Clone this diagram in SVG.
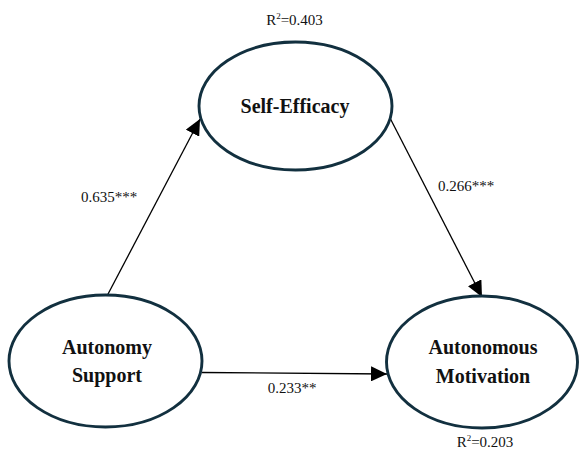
<svg xmlns="http://www.w3.org/2000/svg" width="579" height="452" viewBox="0 0 579 452">
<style>
.node{fill:#fff;stroke:#12303f;stroke-width:2.9}
.nt{font-family:"Liberation Serif",serif;font-weight:bold;font-size:20px;fill:#111;text-anchor:middle}
.lb{font-family:"Liberation Serif",serif;font-size:15px;fill:#111;text-anchor:middle}
.edge{stroke:#000;stroke-width:1.3;fill:none;marker-end:url(#ah)}
</style>
<defs>
<marker id="ah" markerWidth="16" markerHeight="15" refX="16" refY="7.5" orient="auto" markerUnits="userSpaceOnUse" viewBox="0 0 16 15">
<path d="M0,0 L16,7.5 L0,15 Z" fill="#000"/>
</marker>
</defs>
<rect width="579" height="452" fill="#fff"/>
<g id="connectors">
<line class="edge" x1="107" y1="296" x2="200" y2="119"/>
<line class="edge" x1="390" y1="118" x2="482" y2="297"/>
<line class="edge" x1="202" y1="372.5" x2="387" y2="374"/>
<text class="lb" x="109" y="202">0.635***</text>
<text class="lb" x="466" y="191">0.266***</text>
<text class="lb" x="292" y="393">0.233**</text>
</g>
<g id="self-efficacy">
<ellipse class="node" cx="295.5" cy="106" rx="96.5" ry="64"/>
<text class="nt" x="295" y="113">Self-Efficacy</text>
<text class="lb" x="294.5" y="25">R<tspan font-size="9" dy="-6">2</tspan><tspan dy="6">=0.403</tspan></text>
</g>
<g id="autonomy-support">
<ellipse class="node" cx="105.5" cy="361" rx="96.5" ry="66"/>
<text class="nt" x="107" y="354">Autonomy</text>
<text class="nt" x="107" y="382">Support</text>
</g>
<g id="autonomous-motivation">
<ellipse class="node" cx="482" cy="362" rx="95.5" ry="66"/>
<text class="nt" x="483" y="354">Autonomous</text>
<text class="nt" x="483" y="383">Motivation</text>
<text class="lb" x="485" y="447">R<tspan font-size="9" dy="-6">2</tspan><tspan dy="6">=0.203</tspan></text>
</g>
</svg>
